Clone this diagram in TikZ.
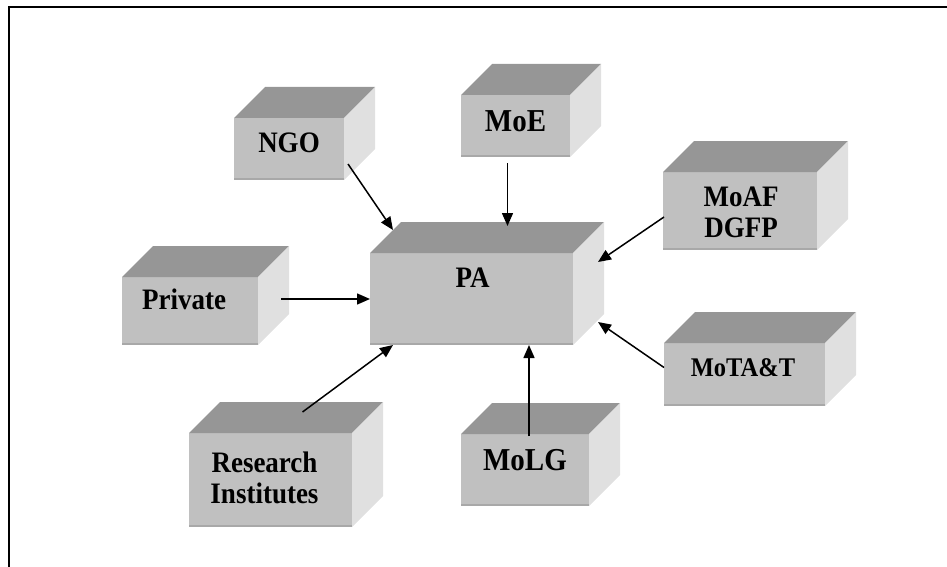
\documentclass[tikz,border=0pt]{standalone}
\usepackage{fontspec}
\setmainfont{Liberation Serif}
\usetikzlibrary{calc,arrows.meta}
\definecolor{frontgray}{HTML}{C0C0C0}
\definecolor{topgray}{HTML}{969696}
\definecolor{sidegray}{HTML}{E0E0E0}
\definecolor{edgegray}{HTML}{A8A8A8}
\def\cubedepth{31}
% name, front corner, width, height, text shift, font size, text
\newcommand{\cubebox}[7]{%
	\node[front, minimum width=#3pt, minimum height=#4pt] (#1) at (#2) {};
	\fill[topgray] (#1.north west) -- ++(\cubedepth,-\cubedepth) -- ($(#1.north east)+(\cubedepth,-\cubedepth)$) -- (#1.north east) -- cycle;
	\fill[sidegray] (#1.north east) -- ++(\cubedepth,-\cubedepth) -- ($(#1.south east)+(\cubedepth,-\cubedepth)$) -- (#1.south east) -- cycle;
	\draw[edgegray, line width=2pt] ([yshift=1pt]#1.south west) -- ([yshift=1pt]#1.south east);
	\node[boxtext, font={\bfseries\fontsize{#6}{28}\selectfont}] (#1-text) at ($(#1.center)+(#5)$)
		{\scalebox{1}[1.1]{\begin{tabular}{@{}c@{}}#7\end{tabular}}};
}

\begin{document}
\begin{tikzpicture}[x=1pt,y=-1pt,
	front/.style={fill=frontgray, inner sep=0pt, outer sep=0pt, anchor=north west},
	boxtext/.style={inner sep=0pt},
	arr/.style={line width=1.5pt, -{Triangle[length=13pt,width=11pt]}}]
			%%%%% START %%%%%
			\useasboundingbox (0,0) rectangle (947,567);
			\draw[line width=2pt] (9,567) -- (9,7) -- (947,7);
			
			\cubebox{pa}{370,253}{203}{92}{1,-18}{27}{PA}
			
			\cubebox{ngo}{234,118}{110}{62}{0,-3}{27}{NGO}
			\cubebox{moe}{461,95}{109}{62}{0,-1}{29}{MoE}
			\cubebox{moaf}{663,172}{154}{78}{1,5}{27}{MoAF\\DGFP}
			
			\cubebox{private}{122,277}{136}{68}{-6,-8}{27}{Private}
			\cubebox{mota}{664,343}{161}{63}{-1.5,-4.5}{24.5}{MoTA\&T}
			
			\cubebox{research}{189,433}{163}{94}{-6,2}{27}{Research\\Institutes}
			\cubebox{molg}{461,434}{128}{72}{0,-6}{29}{MoLG}
			
			\draw[arr] ($(ngo.east)+(4,15)$) -- ($(pa.north west)+(23,-23)$);
			\draw[arr] ($(moe.south)+(-8,6)$) -- ($(moe.south |- pa.north)+(-8,-27)$);
			\draw[arr] ($(moaf.west)+(1,6)$) -- ($(pa.north east)+(25,9)$);
			\draw[arr] ($(private.east)+(23,-12)$) -- (pa.west);
			\draw[arr] ($(mota.west)+(0,-7)$) -- ($(pa.east)+(25,23)$);
			\draw[arr] ($(research.north)+(32,-21)$) -- ($(pa.south west)+(23,0)$);
			\draw[arr] ($(molg.north)+(4,2)$) -- ($(molg.north |- pa.south)+(4,0)$);
			
			%%%%% END %%%%%
\end{tikzpicture}
\end{document}
